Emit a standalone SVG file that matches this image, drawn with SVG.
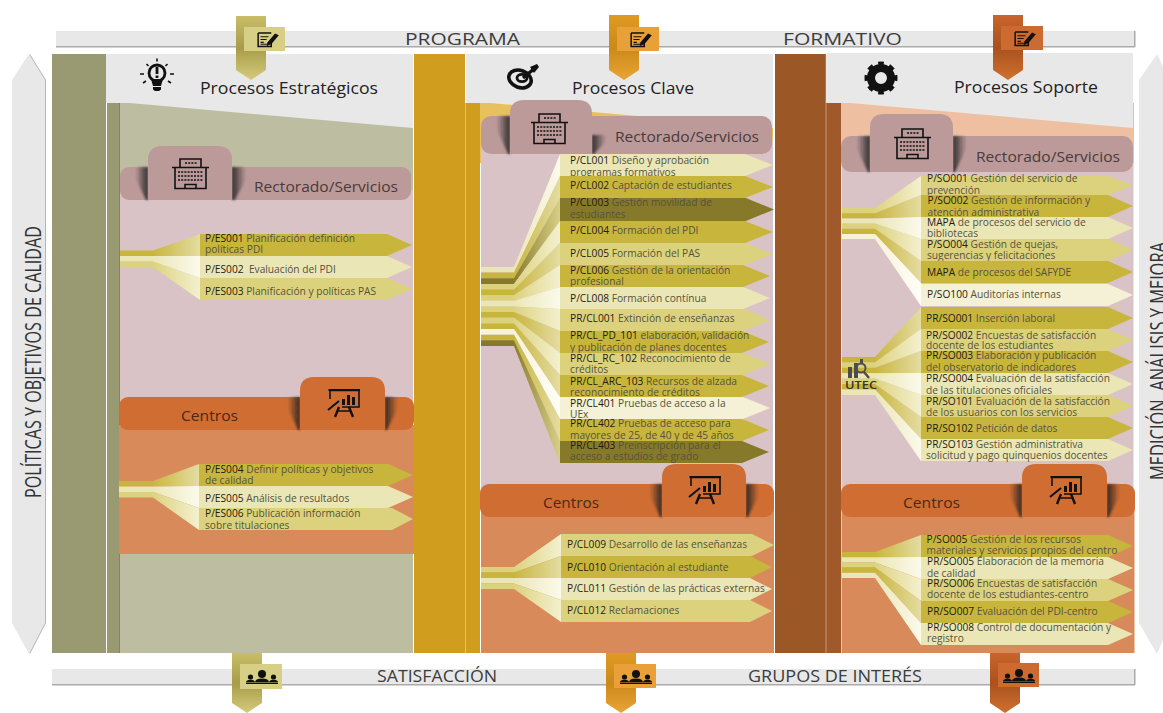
<svg xmlns="http://www.w3.org/2000/svg" width="1163" height="713" viewBox="0 0 1163 713">
<style>
text{font-family:"Open Sans","Liberation Sans",sans-serif}
.t{font-size:10.2px;fill:#55533c}
.c{font-weight:500;fill:#1e1d12}
.h{font-size:16px;fill:#222}
.b{font-size:16px;fill:#3c3c3c}
.r{font-size:15px;fill:#4a3a3a}
.ce{font-size:14px;fill:#4a2a14}
.v{font-size:22px;fill:#333}
.O{fill:#c8b53c}.P{fill:#dcd27e}.L{fill:#ebe6b6}.D{fill:#87792a}.W{fill:#f4f1d6}
.fO{fill:url(#gO)}.fP{fill:url(#gP)}.fL{fill:url(#gL)}.fD{fill:url(#gD)}.fW{fill:url(#gW)}
.pink{fill:#d9c3c6}.orange{fill:#d98a5b}.rb{fill:#bc9a9a}.cb{fill:#cf6d33}
.ico{fill:none;stroke:#111;stroke-width:1.6}
.sh{filter:url(#bl)}
</style>
<defs>
<filter id="bl" x="-30%" y="-10%" width="160%" height="120%"><feGaussianBlur stdDeviation="1"/></filter>
<linearGradient id="gO"><stop offset=".4" stop-color="#c8b53c"/><stop offset="1" stop-color="#e4dca2"/></linearGradient>
<linearGradient id="gP"><stop offset=".4" stop-color="#dcd27e"/><stop offset="1" stop-color="#f4f0cf"/></linearGradient>
<linearGradient id="gL"><stop offset=".4" stop-color="#ebe6b6"/><stop offset="1" stop-color="#fbfaeb"/></linearGradient>
<linearGradient id="gD"><stop offset=".4" stop-color="#87792a"/><stop offset="1" stop-color="#d8cf87"/></linearGradient>
<linearGradient id="gW"><stop offset=".4" stop-color="#f6f3d8"/><stop offset="1" stop-color="#fffef6"/></linearGradient>
<linearGradient id="sL"><stop offset=".3" stop-color="#222" stop-opacity="0"/><stop offset="1" stop-color="#222" stop-opacity=".9"/></linearGradient>
<linearGradient id="sR"><stop offset="0" stop-color="#222" stop-opacity=".9"/><stop offset=".7" stop-color="#222" stop-opacity="0"/></linearGradient>
<linearGradient id="r1" x2="0" y2="1"><stop offset="0" stop-color="#c9bd68"/><stop offset=".5" stop-color="#a89c48"/><stop offset="1" stop-color="#d5cb7c"/></linearGradient>
<linearGradient id="r2" x2="0" y2="1"><stop offset="0" stop-color="#e09a22"/><stop offset=".5" stop-color="#c98a1a"/><stop offset="1" stop-color="#eaa436"/></linearGradient>
<linearGradient id="r3" x2="0" y2="1"><stop offset="0" stop-color="#c9652c"/><stop offset=".5" stop-color="#a8521f"/><stop offset="1" stop-color="#d0702f"/></linearGradient>
<symbol id="bld" viewBox="0 0 37 31" overflow="visible">
<path class="ico" d="M8 9V1H29V9M0 9.5H37M3 9.5V30.5H34V9.5M13 30.5V26.5H24V30.5"/>
<path fill="none" stroke="#111" stroke-width="1.4" stroke-dasharray="2 1.2" d="M13 5H25M6 14H31M6 18H31M6 22H31"/>
</symbol>
<symbol id="brd" viewBox="0 0 32 28" overflow="visible">
<path class="ico" d="M2 10V1.5H31V18H14"/>
<path fill="none" stroke="#111" stroke-width="2" d="M0 21L11 12M0.5 1H32"/>
<path fill="#111" d="M14 10h3v6h-3zM19 6h3v10h-3zM24 8h3v8h-3z"/>
<path fill="none" stroke="#111" stroke-width="2.4" d="M11 18L7 28M21 18L25 28"/>
<path fill="none" stroke="#111" stroke-width="1.5" d="M9.5 22H23"/>
</symbol>
<symbol id="note" viewBox="0 0 23 16" overflow="visible">
<path class="ico" d="M1 1H15M1 1V15.5H15V10"/>
<path fill="none" stroke="#111" stroke-width="1.2" d="M3.5 5H12M3.5 8H10M3.5 11H7M3.5 13H12"/>
<path fill="#111" d="M11 11L19 1.5L23 3.5L15 13L10 15z"/>
</symbol>
<symbol id="ppl" viewBox="0 0 32 14" overflow="visible">
<circle cx="16" cy="4" r="4" fill="#111"/><path fill="#111" d="M9 12.5Q9 8.5 16 8.5T23 12.5z"/>
<circle cx="4.5" cy="7" r="2.6" fill="#111"/><path fill="#111" d="M0 12.5Q0 9.8 4.5 9.8T9 12.5z"/>
<circle cx="27.5" cy="7" r="2.6" fill="#111"/><path fill="#111" d="M23 12.5Q23 9.8 27.5 9.8T32 12.5z"/>
<path stroke="#111" stroke-width="1" d="M0 13.5H32"/>
</symbol>
</defs>
<rect width="1163" height="713" fill="#fff"/>

<g id="bar-top"><rect x="56" y="31" width="1079" height="15" fill="#e8e8e8"/><rect x="56" y="46" width="1079" height="1.5" fill="#aaa"/><rect x="1134" y="31" width="1.5" height="16" fill="#aaa"/>
<text class="b" x="405" y="45" textLength="115" lengthAdjust="spacingAndGlyphs">PROGRAMA</text><text class="b" x="783" y="45" textLength="119" lengthAdjust="spacingAndGlyphs">FORMATIVO</text></g>
<g id="bar-bottom"><rect x="52" y="669" width="1083" height="15" fill="#e8e8e8"/><rect x="52" y="684" width="1083" height="1.5" fill="#aaa"/><rect x="1134" y="669" width="1.5" height="16" fill="#aaa"/>
<text class="b" x="377" y="682" textLength="120" lengthAdjust="spacingAndGlyphs">SATISFACCIÓN</text><text class="b" x="748" y="682" textLength="174" lengthAdjust="spacingAndGlyphs">GRUPOS DE INTERÉS</text></g>

<g id="side-left"><polygon points="29,54 45,80 45,623 29,654 12,623 12,80" fill="#b5b5b5" transform="translate(1,0)"/><polygon points="29,54 45,80 45,623 29,654 12,623 12,80" fill="#e8e8e8"/>
<text class="v" transform="translate(41,498) rotate(-90)" textLength="272" lengthAdjust="spacingAndGlyphs">POLÍTICAS Y OBJETIVOS DE CALIDAD</text></g>
<g id="side-right"><polygon points="1157,54 1170,80 1170,623 1157,654 1139,623 1139,80" fill="#e8e8e8"/>
<text class="v" transform="translate(1166,480) rotate(-90)" textLength="238" lengthAdjust="spacingAndGlyphs" xml:space="preserve">MEDICIÓN  ANÁLISIS Y MEJORA</text></g>

<g id="panel-estrategicos">
<rect x="52" y="54" width="54" height="599" fill="#9a9a72"/><rect x="107" y="103" width="12" height="550" fill="#9a9a72"/><rect x="119" y="103" width="1" height="550" fill="#85855f"/>
<rect x="120" y="103" width="293" height="550" fill="#bdbea1"/>
<polygon points="106,54 413,54 413,128 130,103 106,103" fill="#e8e8e8"/>
<rect x="120" y="190" width="293" height="225" class="pink"/><rect x="119" y="425" width="295" height="129" class="orange"/>
<rect x="120" y="167" width="291" height="33" rx="9" class="rb"/>
<polygon class="sh" points="130,167 148,167 148,200 146,200" fill="url(#sL)"/><polygon class="sh" points="232,167 252,167 235,200 232,200" fill="url(#sR)"/>
<path d="M148 200V160Q148 146 162 146H218Q232 146 232 160V200z" class="rb"/>
<use href="#bld" x="172" y="158" width="37" height="31"/>
<text class="r" x="254" y="192" textLength="144" lengthAdjust="spacingAndGlyphs">Rectorado/Servicios</text>
<rect x="119" y="397" width="295" height="33" rx="9" class="cb"/>
<polygon class="sh" points="283,397 300,397 300,430 298,430" fill="url(#sL)"/><polygon class="sh" points="385,397 403,397 387,430 385,430" fill="url(#sR)"/>
<path d="M300 430V391Q300 377 314 377H371Q385 377 385 391V430z" class="cb"/>
<use href="#brd" x="328" y="389" width="32" height="28"/>
<text class="ce" x="181" y="421" textLength="57" lengthAdjust="spacingAndGlyphs">Centros</text>
<g id="icon-bulb"><circle cx="157" cy="73" r="8" fill="none" stroke="#111" stroke-width="2.8"/><path fill="#111" d="M151 79h12l-2 7h-8zM153 87h8v2.5l-2 1.5h-4l-2-1.5zM155.6 67h2.8v7h-2.8zM155.6 75.5h2.8v2.5h-2.8z"/><path stroke="#111" stroke-width="1.6" d="M157 61v-0M157 61.5v-3M146.5 64l2 2M167.5 64l-2 2M140 74h4M170 74h4M143 83l3-2M171 83l-3-2"/></g>
<text class="h" x="200" y="94" textLength="178" lengthAdjust="spacingAndGlyphs">Procesos Estratégicos</text>
</g>

<g id="panel-clave">
<rect x="414" y="54" width="51" height="599" fill="#d09d1f"/><rect x="465" y="103" width="15" height="550" fill="#d09d1f"/><rect x="465" y="103" width="1" height="550" fill="#e3c26a"/>
<rect x="480" y="103" width="293" height="60" fill="#e9c05e"/>
<polygon points="466,54 773,54 773,128 490,103 466,103" fill="#e8e8e8"/>
<rect x="481" y="140" width="292" height="350" class="pink"/><rect x="481" y="505" width="293" height="148" class="orange"/>
<rect x="481" y="116" width="291" height="38" rx="10" class="rb"/>
<polygon class="sh" points="491,116 510,116 510,154 508,154" fill="url(#sL)"/><polygon class="sh" points="592,135 612,135 594,154 592,154" fill="url(#sR)"/>
<path d="M510 154V114Q510 100 524 100H578Q592 100 592 114V154z" class="rb"/>
<use href="#bld" x="531" y="113" width="37" height="31"/>
<text class="r" x="615" y="142" textLength="144" lengthAdjust="spacingAndGlyphs">Rectorado/Servicios</text>
<rect x="480" y="484" width="294" height="33" rx="9" class="cb"/>
<polygon class="sh" points="645,484 662,484 662,517 660,517" fill="url(#sL)"/><polygon class="sh" points="746,484 764,484 748,517 746,517" fill="url(#sR)"/>
<path d="M662 517V478Q662 464 676 464H732Q746 464 746 478V517z" class="cb"/>
<use href="#brd" x="689" y="476" width="32" height="28"/>
<text class="ce" x="543" y="508" textLength="56" lengthAdjust="spacingAndGlyphs">Centros</text>
<g id="icon-target"><ellipse cx="520" cy="79" rx="11.5" ry="8.5" fill="none" stroke="#111" stroke-width="3.6" transform="rotate(20 520 79)"/><ellipse cx="522" cy="78" rx="5" ry="3.6" fill="none" stroke="#111" stroke-width="2.8"/><path stroke="#111" stroke-width="3.4" d="M523 78L535 68"/><path fill="#111" d="M530 67l7-3 2 3-5 6z"/></g>
<text class="h" x="572" y="94" textLength="122" lengthAdjust="spacingAndGlyphs">Procesos Clave</text>
</g>

<g id="panel-soporte">
<rect x="775" y="54" width="51" height="599" fill="#9c5726"/><rect x="826" y="103" width="15" height="550" fill="#a0592a"/><rect x="825.5" y="54" width="1" height="599" fill="#c79a78"/>
<rect x="841" y="103" width="293" height="60" fill="#eebfa0"/>
<polygon points="826,53 1133,53 1133,128 850,103 826,103" fill="#e8e8e8"/>
<rect x="841.5" y="160" width="292" height="330" class="pink"/><rect x="841.5" y="505" width="293" height="148" class="orange"/>
<rect x="841" y="136" width="292" height="36" rx="10" class="rb"/>
<polygon class="sh" points="851,136 870,136 870,172 868,172" fill="url(#sL)"/><polygon class="sh" points="953,136 972,136 955,172 953,172" fill="url(#sR)"/>
<path d="M870 172V128Q870 114 884 114H939Q953 114 953 128V172z" class="rb"/>
<use href="#bld" x="894" y="128" width="37" height="31"/>
<text class="r" x="976" y="162" textLength="144" lengthAdjust="spacingAndGlyphs">Rectorado/Servicios</text>
<rect x="841" y="484" width="294" height="33" rx="9" class="cb"/>
<polygon class="sh" points="1005,484 1022,484 1022,517 1020,517" fill="url(#sL)"/><polygon class="sh" points="1107,484 1125,484 1109,517 1107,517" fill="url(#sR)"/>
<path d="M1022 517V478Q1022 464 1036 464H1093Q1107 464 1107 478V517z" class="cb"/>
<use href="#brd" x="1050" y="476" width="32" height="28"/>
<text class="ce" x="903" y="508" textLength="57" lengthAdjust="spacingAndGlyphs">Centros</text>
<g id="icon-gear"><circle cx="881" cy="78" r="10" fill="none" stroke="#111" stroke-width="8"/><circle cx="881" cy="78" r="14.5" fill="none" stroke="#111" stroke-width="4" pathLength="16" stroke-dasharray="1 1" stroke-dashoffset=".5"/></g>
<text class="h" x="954" y="93" textLength="144" lengthAdjust="spacingAndGlyphs">Procesos Soporte</text>
</g>

<g id="connectors">
<polygon class="fO" points="120,250.5 153,250.5 200,234 200,256 153,256 120,256"/>
<polygon class="fL" points="120,256 153,256 200,256 200,278 153,261.5 120,261.5"/>
<polygon class="fP" points="120,261.5 153,261.5 200,278 200,300 153,267 120,267"/>
<polygon class="fO" points="119,481 153,481 199,464 199,486 153,486.5 119,486.5"/>
<polygon class="fL" points="119,486.5 153,486.5 199,486 199,508 153,492 119,492"/>
<polygon class="fP" points="119,492 153,492 199,508 199,530 153,497.5 119,497.5"/>

<polygon class="fL" points="481,267 514,267 560,154 560,176 514,272.6 481,272.6"/>
<polygon class="fO" points="481,272.6 514,272.6 560,176 560,198 514,278.3 481,278.3"/>
<polygon class="fD" points="481,278.3 514,278.3 560,198 560,221 514,283.9 481,283.9"/>
<polygon class="fP" points="481,283.9 514,283.9 560,221 560,243 514,289.6 481,289.6"/>
<polygon class="fO" points="481,289.6 514,289.6 560,243 560,265 514,295.2 481,295.2"/>
<polygon class="fP" points="481,295.2 514,295.2 560,265 560,287 514,300.8 481,300.8"/>
<polygon class="fL" points="481,300.8 514,300.8 560,287 560,309 514,306.5 481,306.5"/>
<polygon class="fP" points="481,306.5 514,306.5 560,309 560,331 514,312.1 481,312.1"/>
<polygon class="fO" points="481,312.1 514,312.1 560,331 560,353 514,317.8 481,317.8"/>
<polygon class="fP" points="481,317.8 514,317.8 560,353 560,375 514,323.4 481,323.4"/>
<polygon class="fO" points="481,323.4 514,323.4 560,375 560,397 514,329 481,329"/>
<polygon class="fW" points="481,329 514,329 560,397 560,419 514,334.7 481,334.7"/>
<polygon class="fO" points="481,334.7 514,334.7 560,419 560,441 514,340.3 481,340.3"/>
<polygon class="fD" points="481,340.3 514,340.3 560,441 560,463 514,346 481,346"/>

<polygon class="fP" points="481,567 514,567 561,534 561,556 514,572.5 481,572.5"/>
<polygon class="fO" points="481,572.5 514,572.5 561,556 561,578 514,578 481,578"/>
<polygon class="fL" points="481,578 514,578 561,578 561,600 514,583.5 481,583.5"/>
<polygon class="fP" points="481,583.5 514,583.5 561,600 561,622 514,589 481,589"/>

<polygon class="fP" points="842,208 875,208 921,176 921,195 875,213.2 842,213.2"/>
<polygon class="fO" points="842,213.2 875,213.2 921,195 921,217 875,218.4 842,218.4"/>
<polygon class="fL" points="842,218.4 875,218.4 921,217 921,239 875,223.6 842,223.6"/>
<polygon class="fP" points="842,223.6 875,223.6 921,239 921,261 875,228.8 842,228.8"/>
<polygon class="fO" points="842,228.8 875,228.8 921,261 921,283 875,234 842,234"/>
<polygon class="fW" points="842,234 875,234 921,283 921,306 875,239 842,239"/>

<polygon class="fO" points="842,357 875,357 921,307 921,329 875,362.4 842,362.4"/>
<polygon class="fP" points="842,362.4 875,362.4 921,329 921,351 875,367.8 842,367.8"/>
<polygon class="fO" points="842,367.8 875,367.8 921,351 921,373 875,373.2 842,373.2"/>
<polygon class="fL" points="842,373.2 875,373.2 921,373 921,395 875,378.6 842,378.6"/>
<polygon class="fP" points="842,378.6 875,378.6 921,395 921,417 875,384 842,384"/>
<polygon class="fO" points="842,384 875,384 921,417 921,439 875,389.4 842,389.4"/>
<polygon class="fL" points="842,389.4 875,389.4 921,439 921,461 875,395 842,395"/>

<polygon class="fO" points="842,552 875,552 921,535 921,557 875,557.2 842,557.2"/>
<polygon class="fL" points="842,557.2 875,557.2 921,557 921,579 875,562.4 842,562.4"/>
<polygon class="fP" points="842,562.4 875,562.4 921,579 921,601 875,567.6 842,567.6"/>
<polygon class="fO" points="842,567.6 875,567.6 921,601 921,623 875,572.8 842,572.8"/>
<polygon class="fL" points="842,572.8 875,572.8 921,623 921,645 875,578 842,578"/>
</g>

<g id="es001"><polygon class="O" points="200,234 387,234 412,245 387,256 200,256"/><text class="t" x="205" y="241.7"><tspan class="c">P/ES001</tspan> Planificación definición</text><text class="t" x="205" y="253">políticas PDI</text></g>
<g id="es002"><polygon class="L" points="200,256 387,256 412,267 387,278 200,278"/><text class="t" x="205" y="273" xml:space="preserve"><tspan class="c">P/ES002</tspan>  Evaluación del PDI</text></g>
<g id="es003"><polygon class="P" points="200,278 387,278 412,289 387,300 200,300"/><text class="t" x="205" y="295"><tspan class="c">P/ES003</tspan> Planificación y políticas PAS</text></g>
<g id="es004"><polygon class="O" points="199,464 388,464 413,475 388,486 199,486"/><text class="t" x="205" y="472.7"><tspan class="c">P/ES004</tspan> Definir políticas y objetivos</text><text class="t" x="205" y="484">de calidad</text></g>
<g id="es005"><polygon class="L" points="199,486 388,486 413,497 388,508 199,508"/><text class="t" x="205" y="501.7"><tspan class="c">P/ES005</tspan> Análisis de resultados</text></g>
<g id="es006"><polygon class="P" points="199,508 392,508 413,519 392,530 199,530"/><text class="t" x="205" y="517.3"><tspan class="c">P/ES006</tspan> Publicación información</text><text class="t" x="205" y="528.7">sobre titulaciones</text></g>

<g id="cl001"><polygon class="L" points="560,154 745,154 773,165 745,176 560,176"/><text class="t" x="570" y="164"><tspan class="c">P/CL001</tspan> Diseño y aprobación</text><text class="t" x="570" y="175.5">programas formativos</text></g>
<g id="cl002"><polygon class="O" points="560,176 745,176 773,187 745,198 560,198"/><text class="t" x="570" y="189"><tspan class="c">P/CL002</tspan> Captación de estudiantes</text></g>
<g id="cl003"><polygon class="D" points="560,198 746,198 774,209.5 746,221 560,221"/><text class="t" x="570" y="206"><tspan class="c">P/CL003</tspan> Gestión movilidad de</text><text class="t" x="570" y="217.5">estudiantes</text></g>
<g id="cl004"><polygon class="O" points="560,221 745,221 773,232 745,243 560,243"/><text class="t" x="570" y="234"><tspan class="c">P/CL004</tspan> Formación del PDI</text></g>
<g id="cl005"><polygon class="P" points="560,243 745,243 773,254 745,265 560,265"/><text class="t" x="570" y="256.7"><tspan class="c">P/CL005</tspan> Formación del PAS</text></g>
<g id="cl006"><polygon class="O" points="560,265 743,265 770,276 743,287 560,287"/><text class="t" x="570" y="273.5"><tspan class="c">P/CL006</tspan> Gestión de la orientación</text><text class="t" x="570" y="285">profesional</text></g>
<g id="cl008"><polygon class="L" points="560,287 743,287 770,298 743,309 560,309"/><text class="t" x="570" y="302.3"><tspan class="c">P/CL008</tspan> Formación contínua</text></g>
<g id="prcl001"><polygon class="P" points="560,309 743,309 770,320 743,331 560,331"/><text class="t" x="570" y="322"><tspan class="c">PR/CL001</tspan> Extinción de enseñanzas</text></g>
<g id="prcl101"><polygon class="O" points="560,331 742,331 769,342 742,353 560,353"/><text class="t" x="570" y="339.3"><tspan class="c">PR/CL_PD_101</tspan> elaboración, validación</text><text class="t" x="570" y="350.7">y publicación de planes docentes</text></g>
<g id="prcl102"><polygon class="P" points="560,353 743,353 770,364 743,375 560,375"/><text class="t" x="570" y="362.3"><tspan class="c">PR/CL_RC_102</tspan> Reconocimiento de</text><text class="t" x="570" y="373.3">créditos</text></g>
<g id="prcl103"><polygon class="O" points="560,375 742,375 769,386 742,397 560,397"/><text class="t" x="570" y="385"><tspan class="c">PR/CL_ARC_103</tspan> Recursos de alzada</text><text class="t" x="570" y="396">reconocimiento de créditos</text></g>
<g id="prcl401"><polygon class="W" points="560,397 743,397 770,408 743,419 560,419"/><text class="t" x="570" y="406.7"><tspan class="c">PR/CL401</tspan> Pruebas de acceso a la</text><text class="t" x="570" y="417.7">UEx</text></g>
<g id="prcl402"><polygon class="O" points="560,419 742,419 769,430 742,441 560,441"/><text class="t" x="570" y="427.3"><tspan class="c">PR/CL402</tspan> Pruebas de acceso para</text><text class="t" x="570" y="439">mayores de 25, de 40 y de 45 años</text></g>
<g id="prcl403"><polygon class="D" points="560,441 742,441 769,452 742,463 560,463"/><text class="t" x="570" y="449.3"><tspan class="c">PR/CL403</tspan> Preinscripción para el</text><text class="t" x="570" y="460.3">acceso a estudios de grado</text></g>
<g id="cl009"><polygon class="P" points="561,534 752,534 774,545 752,556 561,556"/><text class="t" x="567" y="548.3"><tspan class="c">P/CL009</tspan> Desarrollo de las enseñanzas</text></g>
<g id="cl010"><polygon class="O" points="561,556 750,556 772,567 750,578 561,578"/><text class="t" x="567" y="570.7"><tspan class="c">P/CL010</tspan> Orientación al estudiante</text></g>
<g id="cl011"><polygon class="L" points="561,578 750,578 772,589 750,600 561,600"/><text class="t" x="567" y="592"><tspan class="c">P/CL011</tspan> Gestión de las prácticas externas</text></g>
<g id="cl012"><polygon class="P" points="561,600 750,600 772,611 750,622 561,622"/><text class="t" x="567" y="614"><tspan class="c">P/CL012</tspan> Reclamaciones</text></g>

<g id="so001"><polygon class="P" points="921,176 1108,176 1133,185.5 1108,195 921,195"/><text class="t" x="927" y="182"><tspan class="c">P/SO001</tspan> Gestión del servicio de</text><text class="t" x="927" y="194">prevención</text></g>
<g id="so002"><polygon class="O" points="921,195 1108,195 1133,206 1108,217 921,217"/><text class="t" x="927.5" y="204"><tspan class="c">P/SO002</tspan> Gestión de información y</text><text class="t" x="927.5" y="215.7">atención administrativa</text></g>
<g id="somapa1"><polygon class="L" points="921,217 1108,217 1133,228 1108,239 921,239"/><text class="t" x="927" y="226"><tspan class="c">MAPA</tspan> de procesos del servicio de</text><text class="t" x="927" y="237.3">bibliotecas</text></g>
<g id="so004"><polygon class="P" points="921,239 1108,239 1133,250 1108,261 921,261"/><text class="t" x="927" y="248.3"><tspan class="c">P/SO004</tspan> Gestión de quejas,</text><text class="t" x="927" y="259.3">sugerencias y felicitaciones</text></g>
<g id="somapa2"><polygon class="O" points="921,261 1108,261 1133,272 1108,283 921,283"/><text class="t" x="927" y="276"><tspan class="c">MAPA</tspan> de procesos del SAFYDE</text></g>
<g id="so100"><polygon class="W" points="921,284 1108,284 1133,295 1108,306 921,306"/><text class="t" x="927" y="297.7"><tspan class="c">P/SO100</tspan> Auditorías internas</text></g>
<g id="prso001"><polygon class="O" points="921,307 1108,307 1133,318 1108,329 921,329"/><text class="t" x="926" y="321.7"><tspan class="c">PR/SO001</tspan> Inserción laboral</text></g>
<g id="prso002"><polygon class="P" points="921,329 1108,329 1133,340 1108,351 921,351"/><text class="t" x="926" y="338.7"><tspan class="c">PR/SO002</tspan> Encuestas de satisfacción</text><text class="t" x="926" y="349.3">docente de los estudiantes</text></g>
<g id="prso003"><polygon class="O" points="921,351 1108,351 1133,362 1108,373 921,373"/><text class="t" x="926" y="359.3"><tspan class="c">PR/SO003</tspan> Elaboración y publicación</text><text class="t" x="926" y="370.7">del observatorio de indicadores</text></g>
<g id="prso004"><polygon class="L" points="921,373 1108,373 1133,384 1108,395 921,395"/><text class="t" x="926" y="382.3"><tspan class="c">PR/SO004</tspan> Evaluación de la satisfacción</text><text class="t" x="926" y="394">de las titulaciones oficiales</text></g>
<g id="prso101"><polygon class="P" points="921,395 1108,395 1133,406 1108,417 921,417"/><text class="t" x="926" y="404.7"><tspan class="c">PR/SO101</tspan> Evaluación de la satisfacción</text><text class="t" x="926" y="416">de los usuarios con los servicios</text></g>
<g id="prso102"><polygon class="O" points="921,417 1108,417 1133,428 1108,439 921,439"/><text class="t" x="926" y="431.7"><tspan class="c">PR/SO102</tspan> Petición de datos</text></g>
<g id="prso103"><polygon class="L" points="921,439 1108,439 1133,450 1108,461 921,461"/><text class="t" x="926" y="448"><tspan class="c">PR/SO103</tspan> Gestión administrativa</text><text class="t" x="926" y="459.3">solicitud y pago quinquenios docentes</text></g>
<g id="so005"><polygon class="O" points="921,535 1108,535 1133,546 1108,557 921,557"/><text class="t" x="926.5" y="543.3"><tspan class="c">P/SO005</tspan> Gestión de los recursos</text><text class="t" x="926.5" y="554.3">materiales y servicios propios del centro</text></g>
<g id="prso005"><polygon class="L" points="921,557 1108,557 1133,568 1108,579 921,579"/><text class="t" x="927" y="565"><tspan class="c">PR/SO005</tspan> Elaboración de la memoria</text><text class="t" x="927" y="576.7">de calidad</text></g>
<g id="prso006"><polygon class="P" points="921,579 1108,579 1133,590 1108,601 921,601"/><text class="t" x="927" y="586.7"><tspan class="c">PR/SO006</tspan> Encuestas de satisfacción</text><text class="t" x="927" y="598.3">docente de los estudiantes-centro</text></g>
<g id="prso007"><polygon class="O" points="921,601 1108,601 1133,612 1108,623 921,623"/><text class="t" x="927" y="615.3"><tspan class="c">PR/SO007</tspan> Evaluación del PDI-centro</text></g>
<g id="prso008"><polygon class="L" points="921,623 1108,623 1133,634 1108,645 921,645"/><text class="t" x="927" y="630.7"><tspan class="c">PR/SO008</tspan> Control de documentación y</text><text class="t" x="927" y="642.3">registro</text></g>

<g id="utec"><path fill="#4d4d4d" d="M848 367h4v11h-4zM854 363h4v15h-4zM860 359h3v5h-3z"/><circle cx="861" cy="368" r="4.5" fill="none" stroke="#4d4d4d" stroke-width="2"/><path stroke="#4d4d4d" stroke-width="2.5" d="M864 372l5 6"/><text x="845" y="389" font-size="11" font-weight="600" fill="#333" textLength="32" lengthAdjust="spacingAndGlyphs">UTEC</text></g>

<g id="ribbon-top-1"><polygon points="236,16 266,16 266,70 251,80 236,70" fill="url(#r1)"/><rect x="244" y="27" width="41" height="24" fill="#d8cf87"/><use href="#note" x="257" y="32" width="22" height="15"/></g>
<g id="ribbon-top-2"><polygon points="609,15 639,15 639,70 624,80 609,70" fill="url(#r2)"/><rect x="617" y="27" width="42" height="24" fill="#e9a038"/><use href="#note" x="630" y="32" width="22" height="15"/></g>
<g id="ribbon-top-3"><polygon points="993,15 1023,15 1023,70 1008,80 993,70" fill="url(#r3)"/><rect x="1001" y="26" width="42" height="24" fill="#cc6a2f"/><use href="#note" x="1014" y="31" width="22" height="15"/></g>
<g id="ribbon-bottom-1"><polygon points="232,653 262,653 262,703 247,713 232,703" fill="url(#r1)"/><rect x="240" y="664" width="42" height="25" fill="#d8cf87"/><use href="#ppl" x="246" y="670" width="32" height="14"/></g>
<g id="ribbon-bottom-2"><polygon points="606,653 636,653 636,703 621,713 606,703" fill="url(#r2)"/><rect x="614" y="664" width="42" height="24" fill="#e9a038"/><use href="#ppl" x="620" y="670" width="32" height="14"/></g>
<g id="ribbon-bottom-3"><polygon points="990,653 1020,653 1020,703 1005,713 990,703" fill="url(#r3)"/><rect x="998" y="663" width="41" height="24" fill="#cc6a2f"/><use href="#ppl" x="1003" y="669" width="32" height="14"/></g>
</svg>
